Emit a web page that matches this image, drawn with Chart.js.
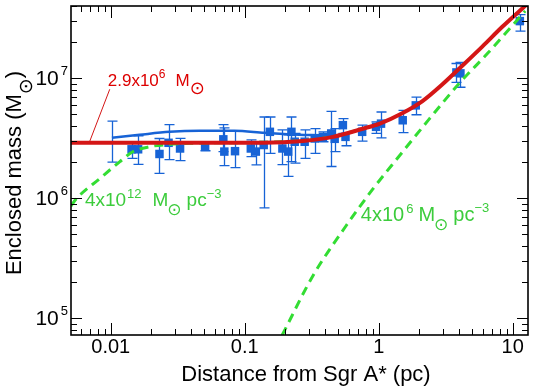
<!DOCTYPE html>
<html>
<head>
<meta charset="utf-8">
<script src="https://cdn.jsdelivr.net/npm/chart.js@4.4.0/dist/chart.umd.min.js"></script>
<style>
  html, body { margin: 0; padding: 0; background: #fff; }
  #wrap { width: 534px; height: 389px; }
</style>
</head>
<body>
<div id="wrap"><canvas id="massChart" width="534" height="389"></canvas></div>
<script>
// Mass estimates (pc, solar masses)
const distance = [0.0143, 0.0160, 0.0231, 0.0270, 0.0329, 0.0506, 0.0692, 0.0704, 0.0846, 0.111, 0.121, 0.1385,
  0.154, 0.191, 0.211, 0.223, 0.236, 0.280, 0.333, 0.383, 0.442, 0.469, 0.540, 0.565, 0.752, 0.955, 1.04, 1.51,
  1.89, 3.80, 4.07, 11.3];
const mass = [2.56e6, 2.56e6, 2.34e6, 2.90e6, 2.60e6, 2.69e6, 3.10e6, 2.45e6, 2.47e6, 2.60e6, 2.45e6, 2.78e6,
  3.58e6, 2.60e6, 2.45e6, 3.58e6, 2.96e6, 2.96e6, 3.15e6, 3.25e6, 3.47e6, 3.13e6, 4.07e6, 3.25e6, 3.58e6, 3.94e6,
  4.19e6, 4.47e6, 5.95e6, 1.12e7, 1.10e7, 3.00e7];
const massLow = [2.15e6, 1.92e6, 1.61e6, 2.10e6, 2.06e6, 2.49e6, 2.45e6, 1.87e6, 1.80e6, 2.22e6, 1.90e6, 8.3e5,
  2.37e6, 1.91e6, 1.52e6, 2.02e6, 1.96e6, 2.15e6, 2.37e6, 2.96e6, 1.84e6, 2.45e6, 3.47e6, 2.74e6, 3.00e6, 3.47e6,
  3.19e6, 3.53e6, 4.97e6, 9.27e6, 8.43e6, 2.48e7];
const massHigh = [2.96e6, 3.32e6, 3.15e6, 4.11e6, 3.16e6, 2.90e6, 4.11e6, 3.86e6, 3.65e6, 3.07e6, 2.86e6, 4.76e6,
  4.76e6, 3.72e6, 3.38e6, 4.76e6, 3.47e6, 3.72e6, 3.81e6, 3.58e6, 5.31e6, 3.81e6, 4.61e6, 3.47e6, 4.07e6, 4.33e6,
  5.24e6, 5.41e6, 6.97e6, 1.33e7, 1.36e7, 3.40e7];

// blue curve (with one error bar at its start)
const fitX = [0.0102, 0.0164, 0.0275, 0.0459, 0.0836, 0.140, 0.254, 0.383, 0.50];
const fitY = [3.19e6, 3.38e6, 3.58e6, 3.65e6, 3.65e6, 3.51e6, 3.38e6, 3.35e6, 3.30e6];
const fitErr = [2.0e6, 4.39e6];

// red: point mass + cluster
const bhX = [0.005, 0.137, 0.272, 0.455, 0.76, 1.02, 1.51, 2.12, 2.99, 4.22, 5.93, 8.36, 12.6];
const bhY = [2.9e6, 2.9e6, 3.0e6, 3.25e6, 3.8e6, 4.2e6, 5.14e6, 6.46e6, 8.92e6, 1.28e7, 1.84e7, 2.69e7, 4.09e7];

// green dashed: dense core (4e12) and cluster (4e6)
const coreX = [0.00504, 0.00558, 0.00828, 0.0117, 0.0146, 0.0195, 0.026, 0.0386, 0.137, 0.272, 0.455, 0.76, 1.02];
const coreY = [8.6e5, 1.0e6, 1.46e6, 2.02e6, 2.44e6, 2.69e6, 2.8e6, 2.87e6, 2.93e6, 3.02e6, 3.27e6, 3.8e6, 4.2e6];
const clusterX = [0.19, 0.323, 0.569, 0.902, 1.408, 2.353, 3.933, 6.574, 12.4];
const clusterY = [7.2e4, 2.26e5, 5.87e5, 1.19e6, 2.22e6, 4.50e6, 8.92e6, 1.64e7, 3.65e7];

// axes
const xTicks = [0.01, 0.1, 1, 10];
const xTickLabels = ['0.01', '0.1', '1', '10'];
const yTickExp = [5, 6, 7];

const RED = '#d41616', GREEN = '#33dd33', BLUE = '#1763d6';
const FONT = '"Liberation Sans", Arial, Helvetica, sans-serif';
const SUN = '⊙';

function pts(xs, ys) { return xs.map((v, i) => ({ x: v, y: ys[i] })); }

// draw a run of text pieces: {t, s (size), dy, gap, sun}
function richWidth(ctx, parts) {
  let w = 0;
  parts.forEach(p => {
    ctx.font = p.s + 'px ' + (p.sun ? '"DejaVu Sans", ' : '') + FONT;
    w += ctx.measureText(p.t).width + (p.gap || 0);
  });
  return w;
}
function drawRich(ctx, x, y, parts, color) {
  ctx.fillStyle = color;
  ctx.textAlign = 'left';
  ctx.textBaseline = 'alphabetic';
  parts.forEach(p => {
    ctx.font = p.s + 'px ' + (p.sun ? '"DejaVu Sans", ' : '') + FONT;
    const m = ctx.measureText(p.t);
    let yy = y + (p.dy || 0);
    if (p.sun) {
      // centre the glyph on (baseline + dy)
      yy = y + p.dy + (m.actualBoundingBoxAscent - m.actualBoundingBoxDescent) / 2;
    }
    ctx.fillText(p.t, x, yy);
    x += m.width + (p.gap || 0);
  });
}

const notes = [
  { x: 0.0095, y: 8.59e6, color: '#dd0000', parts: [
    { t: '2.9x10', s: 17 }, { t: '6', s: 12, dy: -8, gap: 10 }, { t: 'M', s: 17, gap: 0 }, { t: SUN, s: 18, dy: 2, sun: true }] },
  { x: 0.00641, y: 8.59e5, color: '#3ccc3c', parts: [
    { t: '4x10', s: 19, gap: 1 }, { t: '12', s: 13, dy: -8, gap: 11 }, { t: 'M', s: 19, gap: -1 }, { t: SUN, s: 17, dy: 4, sun: true, gap: 5 },
    { t: 'pc', s: 19 }, { t: '\u22123', s: 13, dy: -8 }] },
  { x: 0.735, y: 6.46e5, color: '#3ccc3c', parts: [
    { t: '4x10', s: 20, gap: 2 }, { t: '6', s: 13, dy: -8, gap: 5 }, { t: 'M', s: 20, gap: -1 }, { t: SUN, s: 17, dy: 4, sun: true, gap: 5 },
    { t: 'pc', s: 20 }, { t: '\u22123', s: 13, dy: -9 }] }
];
const leader = [[0.00686, 2.85e6], [0.00983, 8.11e6]];

const decorations = {
  id: 'decorations',
  beforeDatasetsDraw(chart) {
    const { ctx, scales: { x, y } } = chart;
    ctx.save();
    ctx.strokeStyle = BLUE;
    ctx.lineWidth = 1.3;
    const bar = (xv, lo, hi) => {
      const px = Math.round(x.getPixelForValue(xv)) + 0.5;
      const t = y.getPixelForValue(hi), b = y.getPixelForValue(lo);
      ctx.beginPath();
      ctx.moveTo(px, t); ctx.lineTo(px, b);
      ctx.moveTo(px - 5, t); ctx.lineTo(px + 5, t);
      ctx.moveTo(px - 5, b); ctx.lineTo(px + 5, b);
      ctx.stroke();
    };
    distance.forEach((d, i) => bar(d, massLow[i], massHigh[i]));
    bar(fitX[0], fitErr[0], fitErr[1]);
    ctx.restore();
  },
  afterDraw(chart) {
    const { ctx, chartArea: a, scales: { x, y } } = chart;
    ctx.save();
    // minor / major ticks, pointing inward on all four sides
    ctx.strokeStyle = '#000';
    ctx.lineWidth = 1;
    ctx.beginPath();
    for (let k = -3; k <= 1; k++) {
      for (let m = 1; m <= 9; m++) {
        const v = m * Math.pow(10, k);
        if (v < x.min || v > x.max) continue;
        const px = Math.round(x.getPixelForValue(v)) + 0.5;
        const len = m === 1 ? 12 : 6;
        ctx.moveTo(px, a.bottom); ctx.lineTo(px, a.bottom - len);
        ctx.moveTo(px, a.top); ctx.lineTo(px, a.top + len);
      }
    }
    for (let k = 4; k <= 7; k++) {
      for (let m = 1; m <= 9; m++) {
        const v = m * Math.pow(10, k);
        if (v < y.min || v > y.max) continue;
        const py = Math.round(y.getPixelForValue(v)) + 0.5;
        const len = m === 1 ? 11 : 6;
        ctx.moveTo(a.left, py); ctx.lineTo(a.left + len, py);
        ctx.moveTo(a.right, py); ctx.lineTo(a.right - len, py);
      }
    }
    ctx.stroke();
    ctx.lineWidth = 1.6;
    ctx.strokeRect(a.left, a.top, a.right - a.left, a.bottom - a.top);

    // tick labels
    ctx.fillStyle = '#000';
    ctx.font = '20px ' + FONT;
    ctx.textAlign = 'center';
    ctx.textBaseline = 'alphabetic';
    xTicks.forEach((v, i) => ctx.fillText(xTickLabels[i], x.getPixelForValue(v), a.bottom + 18));
    yTickExp.forEach(e => {
      const py = y.getPixelForValue(Math.pow(10, e));
      const parts = [{ t: '10', s: 21, gap: 2 }, { t: String(e), s: 13, dy: -10 }];
      const w = richWidth(ctx, parts);
      drawRich(ctx, a.left - 3 - w, py + 7, parts, '#000');
    });

    // axis titles
    ctx.font = '22px ' + FONT;
    ctx.textAlign = 'center';
    ctx.fillText('Distance from Sgr A* (pc)', 306, 381);
    ctx.save();
    ctx.translate(20.5, 173);
    ctx.rotate(-Math.PI / 2);
    const yt = [{ t: 'Enclosed mass (M', s: 22 }, { t: SUN, s: 19, dy: 5, sun: true }, { t: ')', s: 22 }];
    drawRich(ctx, -richWidth(ctx, yt) / 2, 0, yt, '#000');
    ctx.restore();

    // annotations
    ctx.strokeStyle = RED;
    ctx.lineWidth = 1;
    ctx.beginPath();
    ctx.moveTo(x.getPixelForValue(leader[0][0]), y.getPixelForValue(leader[0][1]));
    ctx.lineTo(x.getPixelForValue(leader[1][0]), y.getPixelForValue(leader[1][1]));
    ctx.stroke();
    notes.forEach(n => drawRich(ctx, x.getPixelForValue(n.x), y.getPixelForValue(n.y), n.parts, n.color));
    ctx.restore();
  }
};

new Chart(document.getElementById('massChart'), {
  data: {
    datasets: [
      {
        type: 'line', label: 'black hole + cluster', data: pts(bhX, bhY),
        borderColor: RED, borderWidth: 4, pointRadius: 0, cubicInterpolationMode: 'monotone', order: 0
      },
      {
        type: 'line', label: 'dense cluster', data: pts(coreX, coreY),
        borderColor: GREEN, borderWidth: 3, borderDash: [9, 6], pointRadius: 0, cubicInterpolationMode: 'monotone', order: 1
      },
      {
        type: 'line', label: 'stellar cluster', data: pts(clusterX, clusterY),
        borderColor: GREEN, borderWidth: 3, borderDash: [9, 6], pointRadius: 0, cubicInterpolationMode: 'monotone', order: 2
      },
      {
        type: 'line', label: 'fit', data: pts(fitX, fitY),
        borderColor: BLUE, borderWidth: 2.5, pointRadius: 0, cubicInterpolationMode: 'monotone', order: 3
      },
      {
        type: 'scatter', label: 'mass estimates', data: pts(distance, mass),
        pointStyle: 'rect', pointRadius: 6, backgroundColor: BLUE, borderWidth: 0, order: 4
      }
    ]
  },
  options: {
    responsive: false,
    animation: false,
    layout: { padding: { left: 0, top: 3, right: 4, bottom: 0 } },
    plugins: { legend: { display: false }, tooltip: { enabled: false } },
    scales: {
      x: {
        type: 'logarithmic', min: 0.00505, max: 13.0,
        grid: { display: false }, border: { display: false }, ticks: { display: false },
        afterFit: s => { s.height = 54; }
      },
      y: {
        type: 'logarithmic', min: 7.24e4, max: 4.01e7,
        grid: { display: false }, border: { display: false }, ticks: { display: false },
        afterFit: s => { s.width = 71; }
      }
    }
  },
  plugins: [decorations]
});
</script>
</body>
</html>
